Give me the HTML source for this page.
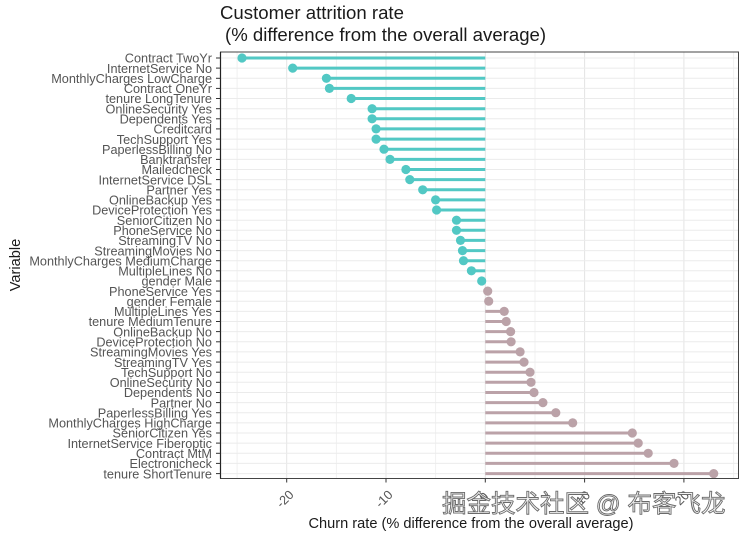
<!DOCTYPE html>
<html>
<head>
<meta charset="utf-8">
<style>
  html, body { margin: 0; padding: 0; background: #fff; }
  body { width: 744px; height: 534px; overflow: hidden; }
  svg { display: block; }
  .lab { font-family: "Liberation Sans", sans-serif; font-size: 12.7px; fill: #555; }
  .tit { font-family: "Liberation Sans", sans-serif; font-size: 18.6px; fill: #1a1a1a; }
  .ax { font-family: "Liberation Sans", sans-serif; font-size: 14.6px; fill: #1a1a1a; }
  .wm { font-family: "Liberation Sans", "Noto Sans CJK SC", sans-serif; font-size: 24.5px; fill: #f4f4f4; stroke: #6a6a6a; stroke-width: 0.9px; }
</style>
</head>
<body>
<svg width="744" height="534" viewBox="0 0 744 534" xmlns="http://www.w3.org/2000/svg">
  <text class="tit" x="220" y="19">Customer attrition rate</text>
  <text class="tit" x="225" y="41">(% difference from the overall average)</text>

  <rect x="220.5" y="52" width="518" height="426.5" fill="#fff"/>

  <g stroke="#f1f1f1" stroke-width="1">
    <line x1="237.1" y1="52" x2="237.1" y2="478.5"/>
    <line x1="336.4" y1="52" x2="336.4" y2="478.5"/>
    <line x1="435.6" y1="52" x2="435.6" y2="478.5"/>
    <line x1="535.0" y1="52" x2="535.0" y2="478.5"/>
    <line x1="634.3" y1="52" x2="634.3" y2="478.5"/>
    <line x1="733.6" y1="52" x2="733.6" y2="478.5"/>
  </g>
  <g stroke="#e4e4e4" stroke-width="1">
    <line x1="286.7" y1="52" x2="286.7" y2="478.5"/>
    <line x1="386.0" y1="52" x2="386.0" y2="478.5"/>
    <line x1="485.3" y1="52" x2="485.3" y2="478.5"/>
    <line x1="584.6" y1="52" x2="584.6" y2="478.5"/>
    <line x1="683.9" y1="52" x2="683.9" y2="478.5"/>
  </g>
  <g stroke="#ebebeb" stroke-width="1">
    <line x1="220.5" x2="738.5" y1="58.0" y2="58.0"/>
    <line x1="220.5" x2="738.5" y1="68.1" y2="68.1"/>
    <line x1="220.5" x2="738.5" y1="78.3" y2="78.3"/>
    <line x1="220.5" x2="738.5" y1="88.4" y2="88.4"/>
    <line x1="220.5" x2="738.5" y1="98.5" y2="98.5"/>
    <line x1="220.5" x2="738.5" y1="108.7" y2="108.7"/>
    <line x1="220.5" x2="738.5" y1="118.8" y2="118.8"/>
    <line x1="220.5" x2="738.5" y1="128.9" y2="128.9"/>
    <line x1="220.5" x2="738.5" y1="139.1" y2="139.1"/>
    <line x1="220.5" x2="738.5" y1="149.2" y2="149.2"/>
    <line x1="220.5" x2="738.5" y1="159.4" y2="159.4"/>
    <line x1="220.5" x2="738.5" y1="169.5" y2="169.5"/>
    <line x1="220.5" x2="738.5" y1="179.6" y2="179.6"/>
    <line x1="220.5" x2="738.5" y1="189.8" y2="189.8"/>
    <line x1="220.5" x2="738.5" y1="199.9" y2="199.9"/>
    <line x1="220.5" x2="738.5" y1="210.0" y2="210.0"/>
    <line x1="220.5" x2="738.5" y1="220.2" y2="220.2"/>
    <line x1="220.5" x2="738.5" y1="230.3" y2="230.3"/>
    <line x1="220.5" x2="738.5" y1="240.4" y2="240.4"/>
    <line x1="220.5" x2="738.5" y1="250.6" y2="250.6"/>
    <line x1="220.5" x2="738.5" y1="260.7" y2="260.7"/>
    <line x1="220.5" x2="738.5" y1="270.8" y2="270.8"/>
    <line x1="220.5" x2="738.5" y1="281.0" y2="281.0"/>
    <line x1="220.5" x2="738.5" y1="291.1" y2="291.1"/>
    <line x1="220.5" x2="738.5" y1="301.2" y2="301.2"/>
    <line x1="220.5" x2="738.5" y1="311.4" y2="311.4"/>
    <line x1="220.5" x2="738.5" y1="321.5" y2="321.5"/>
    <line x1="220.5" x2="738.5" y1="331.6" y2="331.6"/>
    <line x1="220.5" x2="738.5" y1="341.8" y2="341.8"/>
    <line x1="220.5" x2="738.5" y1="351.9" y2="351.9"/>
    <line x1="220.5" x2="738.5" y1="362.1" y2="362.1"/>
    <line x1="220.5" x2="738.5" y1="372.2" y2="372.2"/>
    <line x1="220.5" x2="738.5" y1="382.3" y2="382.3"/>
    <line x1="220.5" x2="738.5" y1="392.5" y2="392.5"/>
    <line x1="220.5" x2="738.5" y1="402.6" y2="402.6"/>
    <line x1="220.5" x2="738.5" y1="412.7" y2="412.7"/>
    <line x1="220.5" x2="738.5" y1="422.9" y2="422.9"/>
    <line x1="220.5" x2="738.5" y1="433.0" y2="433.0"/>
    <line x1="220.5" x2="738.5" y1="443.1" y2="443.1"/>
    <line x1="220.5" x2="738.5" y1="453.3" y2="453.3"/>
    <line x1="220.5" x2="738.5" y1="463.4" y2="463.4"/>
    <line x1="220.5" x2="738.5" y1="473.6" y2="473.6"/>
  </g>

  <g stroke="#52c8c4" stroke-width="3">
    <line x1="485.3" x2="242.0" y1="58.0" y2="58.0"/>
    <line x1="485.3" x2="292.7" y1="68.1" y2="68.1"/>
    <line x1="485.3" x2="326.4" y1="78.3" y2="78.3"/>
    <line x1="485.3" x2="329.4" y1="88.4" y2="88.4"/>
    <line x1="485.3" x2="351.2" y1="98.5" y2="98.5"/>
    <line x1="485.3" x2="372.1" y1="108.7" y2="108.7"/>
    <line x1="485.3" x2="372.1" y1="118.8" y2="118.8"/>
    <line x1="485.3" x2="376.1" y1="128.9" y2="128.9"/>
    <line x1="485.3" x2="376.1" y1="139.1" y2="139.1"/>
    <line x1="485.3" x2="384.0" y1="149.2" y2="149.2"/>
    <line x1="485.3" x2="390.0" y1="159.4" y2="159.4"/>
    <line x1="485.3" x2="405.9" y1="169.5" y2="169.5"/>
    <line x1="485.3" x2="409.8" y1="179.6" y2="179.6"/>
    <line x1="485.3" x2="422.7" y1="189.8" y2="189.8"/>
    <line x1="485.3" x2="435.6" y1="199.9" y2="199.9"/>
    <line x1="485.3" x2="436.6" y1="210.0" y2="210.0"/>
    <line x1="485.3" x2="456.5" y1="220.2" y2="220.2"/>
    <line x1="485.3" x2="456.5" y1="230.3" y2="230.3"/>
    <line x1="485.3" x2="460.5" y1="240.4" y2="240.4"/>
    <line x1="485.3" x2="462.5" y1="250.6" y2="250.6"/>
    <line x1="485.3" x2="463.5" y1="260.7" y2="260.7"/>
    <line x1="485.3" x2="471.4" y1="270.8" y2="270.8"/>
    <line x1="485.3" x2="481.7" y1="281.0" y2="281.0"/>
  </g>
  <g fill="#52c8c4">
    <circle cx="242.0" cy="58.0" r="4.6"/>
    <circle cx="292.7" cy="68.1" r="4.6"/>
    <circle cx="326.4" cy="78.3" r="4.6"/>
    <circle cx="329.4" cy="88.4" r="4.6"/>
    <circle cx="351.2" cy="98.5" r="4.6"/>
    <circle cx="372.1" cy="108.7" r="4.6"/>
    <circle cx="372.1" cy="118.8" r="4.6"/>
    <circle cx="376.1" cy="128.9" r="4.6"/>
    <circle cx="376.1" cy="139.1" r="4.6"/>
    <circle cx="384.0" cy="149.2" r="4.6"/>
    <circle cx="390.0" cy="159.4" r="4.6"/>
    <circle cx="405.9" cy="169.5" r="4.6"/>
    <circle cx="409.8" cy="179.6" r="4.6"/>
    <circle cx="422.7" cy="189.8" r="4.6"/>
    <circle cx="435.6" cy="199.9" r="4.6"/>
    <circle cx="436.6" cy="210.0" r="4.6"/>
    <circle cx="456.5" cy="220.2" r="4.6"/>
    <circle cx="456.5" cy="230.3" r="4.6"/>
    <circle cx="460.5" cy="240.4" r="4.6"/>
    <circle cx="462.5" cy="250.6" r="4.6"/>
    <circle cx="463.5" cy="260.7" r="4.6"/>
    <circle cx="471.4" cy="270.8" r="4.6"/>
    <circle cx="481.7" cy="281.0" r="4.6"/>
  </g>

  <g stroke="#bba2a8" stroke-width="3">
    <line x1="485.3" x2="487.7" y1="291.1" y2="291.1"/>
    <line x1="485.3" x2="488.7" y1="301.2" y2="301.2"/>
    <line x1="485.3" x2="504.2" y1="311.4" y2="311.4"/>
    <line x1="485.3" x2="506.2" y1="321.5" y2="321.5"/>
    <line x1="485.3" x2="510.6" y1="331.6" y2="331.6"/>
    <line x1="485.3" x2="511.1" y1="341.8" y2="341.8"/>
    <line x1="485.3" x2="520.1" y1="351.9" y2="351.9"/>
    <line x1="485.3" x2="524.0" y1="362.1" y2="362.1"/>
    <line x1="485.3" x2="530.0" y1="372.2" y2="372.2"/>
    <line x1="485.3" x2="531.0" y1="382.3" y2="382.3"/>
    <line x1="485.3" x2="534.0" y1="392.5" y2="392.5"/>
    <line x1="485.3" x2="542.9" y1="402.6" y2="402.6"/>
    <line x1="485.3" x2="555.8" y1="412.7" y2="412.7"/>
    <line x1="485.3" x2="572.7" y1="422.9" y2="422.9"/>
    <line x1="485.3" x2="632.3" y1="433.0" y2="433.0"/>
    <line x1="485.3" x2="638.2" y1="443.1" y2="443.1"/>
    <line x1="485.3" x2="648.2" y1="453.3" y2="453.3"/>
    <line x1="485.3" x2="674.0" y1="463.4" y2="463.4"/>
    <line x1="485.3" x2="713.7" y1="473.6" y2="473.6"/>
  </g>
  <g fill="#bba2a8">
    <circle cx="487.7" cy="291.1" r="4.6"/>
    <circle cx="488.7" cy="301.2" r="4.6"/>
    <circle cx="504.2" cy="311.4" r="4.6"/>
    <circle cx="506.2" cy="321.5" r="4.6"/>
    <circle cx="510.6" cy="331.6" r="4.6"/>
    <circle cx="511.1" cy="341.8" r="4.6"/>
    <circle cx="520.1" cy="351.9" r="4.6"/>
    <circle cx="524.0" cy="362.1" r="4.6"/>
    <circle cx="530.0" cy="372.2" r="4.6"/>
    <circle cx="531.0" cy="382.3" r="4.6"/>
    <circle cx="534.0" cy="392.5" r="4.6"/>
    <circle cx="542.9" cy="402.6" r="4.6"/>
    <circle cx="555.8" cy="412.7" r="4.6"/>
    <circle cx="572.7" cy="422.9" r="4.6"/>
    <circle cx="632.3" cy="433.0" r="4.6"/>
    <circle cx="638.2" cy="443.1" r="4.6"/>
    <circle cx="648.2" cy="453.3" r="4.6"/>
    <circle cx="674.0" cy="463.4" r="4.6"/>
    <circle cx="713.7" cy="473.6" r="4.6"/>
  </g>

  <rect x="220.5" y="52" width="518" height="426.5" fill="none" stroke="#444" stroke-width="1"/>
  <line x1="220.5" y1="52" x2="220.5" y2="478.5" stroke="#222" stroke-width="1.2"/>

  <g stroke="#333" stroke-width="1">
    <line x1="216" x2="220.5" y1="58.0" y2="58.0"/>
    <line x1="216" x2="220.5" y1="68.1" y2="68.1"/>
    <line x1="216" x2="220.5" y1="78.3" y2="78.3"/>
    <line x1="216" x2="220.5" y1="88.4" y2="88.4"/>
    <line x1="216" x2="220.5" y1="98.5" y2="98.5"/>
    <line x1="216" x2="220.5" y1="108.7" y2="108.7"/>
    <line x1="216" x2="220.5" y1="118.8" y2="118.8"/>
    <line x1="216" x2="220.5" y1="128.9" y2="128.9"/>
    <line x1="216" x2="220.5" y1="139.1" y2="139.1"/>
    <line x1="216" x2="220.5" y1="149.2" y2="149.2"/>
    <line x1="216" x2="220.5" y1="159.4" y2="159.4"/>
    <line x1="216" x2="220.5" y1="169.5" y2="169.5"/>
    <line x1="216" x2="220.5" y1="179.6" y2="179.6"/>
    <line x1="216" x2="220.5" y1="189.8" y2="189.8"/>
    <line x1="216" x2="220.5" y1="199.9" y2="199.9"/>
    <line x1="216" x2="220.5" y1="210.0" y2="210.0"/>
    <line x1="216" x2="220.5" y1="220.2" y2="220.2"/>
    <line x1="216" x2="220.5" y1="230.3" y2="230.3"/>
    <line x1="216" x2="220.5" y1="240.4" y2="240.4"/>
    <line x1="216" x2="220.5" y1="250.6" y2="250.6"/>
    <line x1="216" x2="220.5" y1="260.7" y2="260.7"/>
    <line x1="216" x2="220.5" y1="270.8" y2="270.8"/>
    <line x1="216" x2="220.5" y1="281.0" y2="281.0"/>
    <line x1="216" x2="220.5" y1="291.1" y2="291.1"/>
    <line x1="216" x2="220.5" y1="301.2" y2="301.2"/>
    <line x1="216" x2="220.5" y1="311.4" y2="311.4"/>
    <line x1="216" x2="220.5" y1="321.5" y2="321.5"/>
    <line x1="216" x2="220.5" y1="331.6" y2="331.6"/>
    <line x1="216" x2="220.5" y1="341.8" y2="341.8"/>
    <line x1="216" x2="220.5" y1="351.9" y2="351.9"/>
    <line x1="216" x2="220.5" y1="362.1" y2="362.1"/>
    <line x1="216" x2="220.5" y1="372.2" y2="372.2"/>
    <line x1="216" x2="220.5" y1="382.3" y2="382.3"/>
    <line x1="216" x2="220.5" y1="392.5" y2="392.5"/>
    <line x1="216" x2="220.5" y1="402.6" y2="402.6"/>
    <line x1="216" x2="220.5" y1="412.7" y2="412.7"/>
    <line x1="216" x2="220.5" y1="422.9" y2="422.9"/>
    <line x1="216" x2="220.5" y1="433.0" y2="433.0"/>
    <line x1="216" x2="220.5" y1="443.1" y2="443.1"/>
    <line x1="216" x2="220.5" y1="453.3" y2="453.3"/>
    <line x1="216" x2="220.5" y1="463.4" y2="463.4"/>
    <line x1="216" x2="220.5" y1="473.6" y2="473.6"/>
  </g>
  <g stroke="#333" stroke-width="1">
    <line x1="286.7" x2="286.7" y1="478.5" y2="482.5"/>
    <line x1="386.0" x2="386.0" y1="478.5" y2="482.5"/>
    <line x1="485.3" x2="485.3" y1="478.5" y2="482.5"/>
    <line x1="584.6" x2="584.6" y1="478.5" y2="482.5"/>
    <line x1="683.9" x2="683.9" y1="478.5" y2="482.5"/>
  </g>

  <g class="lab" text-anchor="end">
    <text x="212" y="62.7">Contract TwoYr</text>
    <text x="212" y="72.8">InternetService No</text>
    <text x="212" y="83.0">MonthlyCharges LowCharge</text>
    <text x="212" y="93.1">Contract OneYr</text>
    <text x="212" y="103.2">tenure LongTenure</text>
    <text x="212" y="113.4">OnlineSecurity Yes</text>
    <text x="212" y="123.5">Dependents Yes</text>
    <text x="212" y="133.6">Creditcard</text>
    <text x="212" y="143.8">TechSupport Yes</text>
    <text x="212" y="153.9">PaperlessBilling No</text>
    <text x="212" y="164.1">Banktransfer</text>
    <text x="212" y="174.2">Mailedcheck</text>
    <text x="212" y="184.3">InternetService DSL</text>
    <text x="212" y="194.5">Partner Yes</text>
    <text x="212" y="204.6">OnlineBackup Yes</text>
    <text x="212" y="214.7">DeviceProtection Yes</text>
    <text x="212" y="224.9">SeniorCitizen No</text>
    <text x="212" y="235.0">PhoneService No</text>
    <text x="212" y="245.1">StreamingTV No</text>
    <text x="212" y="255.3">StreamingMovies No</text>
    <text x="212" y="265.4">MonthlyCharges MediumCharge</text>
    <text x="212" y="275.5">MultipleLines No</text>
    <text x="212" y="285.7">gender Male</text>
    <text x="212" y="295.8">PhoneService Yes</text>
    <text x="212" y="305.9">gender Female</text>
    <text x="212" y="316.1">MultipleLines Yes</text>
    <text x="212" y="326.2">tenure MediumTenure</text>
    <text x="212" y="336.3">OnlineBackup No</text>
    <text x="212" y="346.5">DeviceProtection No</text>
    <text x="212" y="356.6">StreamingMovies Yes</text>
    <text x="212" y="366.8">StreamingTV Yes</text>
    <text x="212" y="376.9">TechSupport No</text>
    <text x="212" y="387.0">OnlineSecurity No</text>
    <text x="212" y="397.2">Dependents No</text>
    <text x="212" y="407.3">Partner No</text>
    <text x="212" y="417.4">PaperlessBilling Yes</text>
    <text x="212" y="427.6">MonthlyCharges HighCharge</text>
    <text x="212" y="437.7">SeniorCitizen Yes</text>
    <text x="212" y="447.8">InternetService Fiberoptic</text>
    <text x="212" y="458.0">Contract MtM</text>
    <text x="212" y="468.1">Electronicheck</text>
    <text x="212" y="478.3">tenure ShortTenure</text>
  </g>

  <g class="lab" text-anchor="middle">
    <text transform="translate(288,502) rotate(-45)">-20</text>
    <text transform="translate(387,502) rotate(-45)">-10</text>
    <text transform="translate(487,500) rotate(-45)">0</text>
    <text transform="translate(586,501) rotate(-45)">10</text>
    <text transform="translate(685,501) rotate(-45)">20</text>
  </g>

  <text class="ax" x="471" y="528" text-anchor="middle">Churn rate (% difference from the overall average)</text>
  <text class="ax" transform="translate(20,265) rotate(-90)" text-anchor="middle">Variable</text>

  <text class="wm" x="442" y="512">掘金技术社区 @ 布客飞龙</text>
</svg>
</body>
</html>
